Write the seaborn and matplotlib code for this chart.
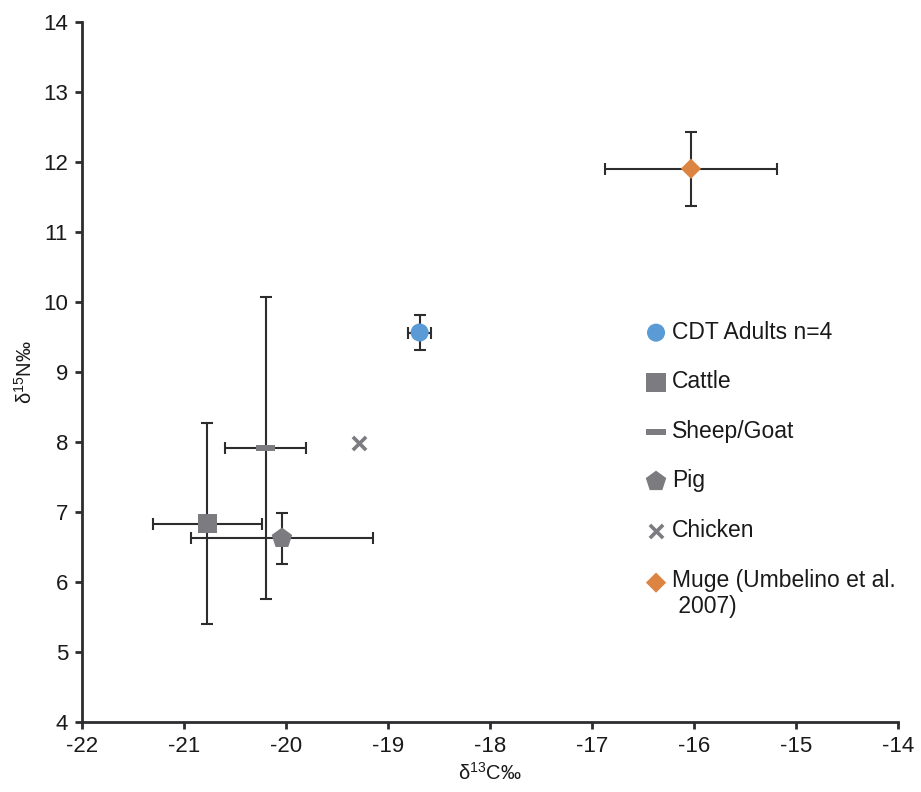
import numpy as np
import pandas as pd
import matplotlib
matplotlib.use("Agg")
import matplotlib.pyplot as plt
import seaborn as sns

# Mean carbon / nitrogen isotope values per group, with one standard deviation
groups = ["CDT Adults n=4", "Cattle", "Sheep/Goat", "Pig", "Chicken",
          "Muge (Umbelino et al.\n 2007)"]
d13c = [-18.69, -20.77, -20.20, -20.04, -19.28, -16.03]
d15n = [9.56, 6.83, 7.91, 6.62, 7.98, 11.90]
d13c_sd = [0.11, 0.53, 0.40, 0.89, np.nan, 0.84]
d15n_sd = [0.25, 1.44, 2.16, 0.36, np.nan, 0.53]

x_ticks = [-22, -21, -20, -19, -18, -17, -16, -15, -14]
y_ticks = [4, 5, 6, 7, 8, 9, 10, 11, 12, 13, 14]

df = pd.DataFrame({"group": groups, "d13c": d13c, "d15n": d15n,
                   "d13c_sd": d13c_sd, "d15n_sd": d15n_sd})

sns.set_theme(style="ticks")
plt.rcParams["font.family"] = ["Liberation Sans", "DejaVu Sans"]
plt.rcParams["axes.unicode_minus"] = False
plt.rcParams["mathtext.fontset"] = "custom"
plt.rcParams["mathtext.rm"] = "Liberation Sans"
plt.rcParams["mathtext.it"] = "Liberation Sans"
plt.rcParams["mathtext.default"] = "regular"

GREY = "#7b7b80"
dash = [(-1, -0.3), (1, -0.3), (1, 0.3), (-1, 0.3)]
styles = {
    "CDT Adults n=4": dict(marker="o", s=13.0 ** 2, color="#5b9bd5"),
    "Cattle": dict(marker="s", s=14.0 ** 2, color=GREY),
    "Sheep/Goat": dict(marker=dash, s=14.0 ** 2, color=GREY),
    "Pig": dict(marker="p", s=15.5 ** 2, color=GREY),
    "Chicken": dict(marker="x", s=9.5 ** 2, color=GREY, linewidth=2.6),
    "Muge (Umbelino et al.\n 2007)": dict(marker="D", s=10.3 ** 2, color="#dc8442"),
}

fig = plt.figure(figsize=(9.21, 7.92), dpi=100)
ax = fig.add_axes([82 / 921, 1 - 721.7 / 792, 816 / 921, 700 / 792])

# Error bars beneath the markers
for _, row in df.iterrows():
    if np.isnan(row["d13c_sd"]):
        continue
    ax.errorbar(row["d13c"], row["d15n"], xerr=row["d13c_sd"], yerr=row["d15n_sd"],
                fmt="none", ecolor="#2d2d2f", elinewidth=1.5, capsize=4,
                capthick=1.5, zorder=2)

for _, row in df.iterrows():
    st = dict(styles[row["group"]])
    lw = st.pop("linewidth", 0)
    sns.scatterplot(x=[row["d13c"]], y=[row["d15n"]], ax=ax, label=row["group"],
                    edgecolor="none" if lw == 0 else None, linewidth=lw,
                    zorder=3, **st)

ax.set_xlim(-22, -14)
ax.set_ylim(4, 14)
ax.set_xticks(x_ticks)
ax.set_xticklabels([str(v) for v in x_ticks])
ax.set_yticks(y_ticks)
ax.set_yticklabels([str(v) for v in y_ticks])

for side in ("top", "right"):
    ax.spines[side].set_visible(False)
for side in ("left", "bottom"):
    ax.spines[side].set_color("#2d2d2f")
    ax.spines[side].set_linewidth(2.0)
ax.tick_params(axis="both", direction="out", length=5, width=2.0,
               color="#2d2d2f", labelsize=16, labelcolor="#1a1a1a", pad=5)

ax.set_xlabel(r"δ$^{13}$C‰", fontsize=14.5, color="#1a1a1a")
ax.set_ylabel(r"δ$^{15}$N‰", fontsize=14.5, color="#1a1a1a")
ax.xaxis.set_label_coords(0.5, -0.058)
ax.yaxis.set_label_coords(-0.057, 0.5)

leg_fs = 16.5
leg = ax.legend(loc="upper left", bbox_to_anchor=(0.681, 0.586), frameon=False,
                fontsize=leg_fs, handlelength=0.8, handletextpad=0.29,
                labelspacing=1.16, borderaxespad=0, borderpad=0.4)
for t in leg.get_texts():
    t.set_color("#1a1a1a")
# keep the two-line entry's marker level with its first line
h = leg.legend_handles[-1]
offs = np.asarray(h.get_offsets(), dtype=float)
offs[:, 1] += 0.6 * leg_fs
h.set_offsets(offs)

fig.savefig("out.png", dpi=100)
